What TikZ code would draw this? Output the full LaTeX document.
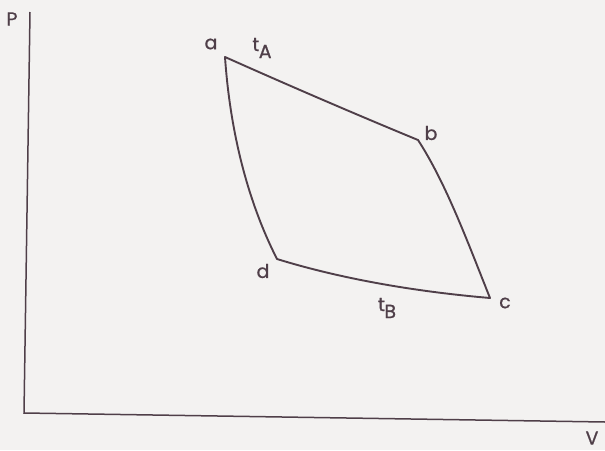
\documentclass[tikz,border=0pt]{standalone}
\usepackage{fontspec}
\setmainfont{Poppins}
\newfontfamily\lblfont[FakeBold=0.8]{Poppins}
\definecolor{bgc}{HTML}{F3F2F1}
\definecolor{ink}{HTML}{4F3F49}
\begin{document}
\begin{tikzpicture}[x=1pt,y=-1pt,
  axisline/.style={draw=ink,line width=1.5pt},
  cycleline/.style={draw=ink,line width=1.9pt,line join=round},
  lbl/.style={text=ink,font=\lblfont\fontsize{19}{19}\selectfont,inner sep=0pt}]
\fill[bgc] (0,0) rectangle (605,450);
\useasboundingbox (0,0) rectangle (605,450);
% axes
\coordinate (ptop) at (30,12);
\coordinate (o) at (24,413);
\coordinate (vend) at (605,422);
\draw[axisline] (ptop) -- (o) -- (vend);
\node[lbl] (plab) at (12,19) {P};
\node[lbl] (vlab) at (592,438) {V};
% cycle corners
\coordinate (a) at (225,57);
\coordinate (b) at (418,140);
\coordinate (c) at (490,298);
\coordinate (d) at (277,259);
\draw[cycleline] (a) .. controls (290,86) and (355,114) .. (b)
  .. controls (446,183) and (468,243) .. (c)
  .. controls (420,292) and (345,280) .. (d)
  .. controls (247,200) and (230,130) .. (a) -- cycle;
\node[lbl] (alab) at (211,44) {a};
\node[lbl] (blab) at (431,133) {b};
\node[lbl] (clab) at (505,303) {c};
\node[lbl] (dlab) at (263,271) {d};
\node[lbl] (tA) at (262,48) {t\kern-0.5pt\raisebox{-7pt}{A}};
\node[lbl] (tB) at (387,308) {t\kern-0.5pt\raisebox{-7pt}{B}};
\end{tikzpicture}
\end{document}
